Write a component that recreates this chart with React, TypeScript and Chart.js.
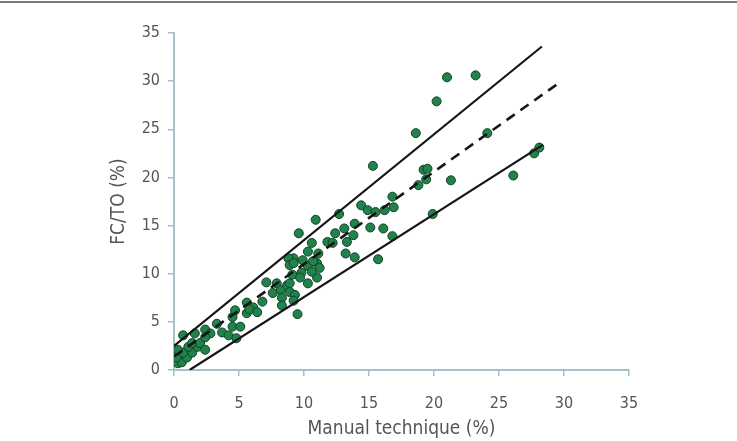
import React, { useEffect, useRef } from "react";
import { Chart, registerables } from "chart.js";

Chart.register(...registerables);

// Manual technique (%) vs FC/TO (%)
const manualX = [
  0.3, 0.6, 0.2, 1.0, 0.7, 1.4, 0.3, 1.1, 1.8, 1.4, 2.0, 0.7, 1.6, 2.4, 2.8, 2.4, 2.4, 3.3, 3.7, 4.2,
  4.5, 5.1, 4.8, 4.5, 4.7, 5.6, 6.1, 5.6, 5.8, 6.4, 6.8, 7.1, 7.6, 7.9, 8.2, 8.3, 8.3, 8.7, 8.9, 8.9,
  9.3, 9.2, 9.5, 9.1, 9.2, 8.8, 8.9, 9.2, 9.8, 9.7, 10.3, 11.0, 10.3, 11.0, 10.6, 11.2, 9.9, 10.7, 10.3, 11.1,
  9.6, 10.6, 10.9, 12.7, 11.8, 12.2, 12.4, 13.1, 13.9, 13.8, 13.3, 13.2, 13.9, 14.4, 14.9, 15.5, 16.2, 15.1, 16.1, 16.8,
  15.7, 15.3, 16.8, 16.9, 18.8, 19.4, 19.2, 19.5, 19.9, 18.6, 20.2, 21.0, 23.2, 24.1, 21.3, 26.1, 27.7, 28.1,
];
const fctoY = [
  0.7, 0.8, 1.3, 1.3, 1.8, 1.8, 2.1, 2.4, 2.4, 2.8, 2.8, 3.6, 3.8, 4.2, 3.8, 3.4, 2.1, 4.8, 3.9, 3.6,
  4.5, 4.5, 3.3, 5.5, 6.2, 7.0, 6.5, 5.9, 6.3, 6.0, 7.1, 9.1, 8.0, 9.0, 8.3, 7.5, 6.7, 8.8, 9.0, 8.1,
  7.8, 7.2, 5.8, 9.9, 11.6, 11.6, 10.9, 11.1, 10.1, 9.6, 9.0, 9.6, 10.8, 11.1, 10.2, 10.6, 11.4, 11.3, 12.3, 12.1,
  14.2, 13.2, 15.6, 16.2, 13.3, 13.2, 14.2, 14.7, 15.2, 14.0, 13.3, 12.1, 11.7, 17.1, 16.6, 16.4, 16.6, 14.8, 14.7, 13.9,
  11.5, 21.2, 18.0, 16.9, 19.2, 19.8, 20.8, 20.9, 16.2, 24.6, 27.9, 30.4, 30.6, 24.6, 19.7, 20.2, 22.5, 23.1,
];

// Reference lines (endpoints)
const upperX = [0, 28.3];
const upperY = [2.5, 33.6];
const identityX = [0, 29.7];
const identityY = [1.4, 29.9];
const lowerX = [1.2, 28.4];
const lowerY = [0, 23.4];

const tickValues = [0, 5, 10, 15, 20, 25, 30, 35];

const pts = (xs: number[], ys: number[]) => xs.map((x, i) => ({ x, y: ys[i] }));

const AXIS = "#a3c1c7";
const TEXT = "#555555";
const FONT = "'Liberation Sans Narrow', 'DejaVu Sans Condensed', 'Roboto', sans-serif";

export default function App() {
  const ref = useRef<HTMLCanvasElement | null>(null);

  useEffect(() => {
    if (!ref.current) return;
    const axis = (title: string, isX: boolean) => ({
      type: "linear" as const,
      min: 0,
      max: 35,
      afterBuildTicks: (s: any) => {
        s.ticks = tickValues.map((v) => ({ value: v }));
      },
      afterFit: (s: any) => {
        if (isX) s.height = 71;
        else s.width = 70;
      },
      grid: {
        display: true,
        drawOnChartArea: false,
        drawTicks: true,
        tickLength: 6,
        color: AXIS,
        lineWidth: 1.5,
      },
      border: { display: true, color: AXIS, width: 2 },
      ticks: {
        color: TEXT,
        font: { family: FONT, size: 16 },
        padding: isX ? 18 : 8,
      },
      title: {
        display: true,
        text: title,
        color: TEXT,
        font: { family: FONT, size: 19 },
        padding: { top: 4, bottom: 1 },
      },
    });

    const chart = new Chart(ref.current, {
      type: "scatter",
      data: {
        datasets: [
          {
            label: "upper",
            data: pts(upperX, upperY),
            showLine: true,
            borderColor: "#151515",
            borderWidth: 2.2,
            pointRadius: 0,
            order: 0,
          },
          {
            label: "identity",
            data: pts(identityX, identityY),
            showLine: true,
            borderColor: "#151515",
            borderWidth: 2.6,
            borderDash: [10, 7],
            pointRadius: 0,
            order: 0,
          },
          {
            label: "lower",
            data: pts(lowerX, lowerY),
            showLine: true,
            borderColor: "#151515",
            borderWidth: 2.2,
            pointRadius: 0,
            order: 0,
          },
          {
            label: "patients",
            data: pts(manualX, fctoY),
            backgroundColor: "#21824a",
            borderColor: "#10412a",
            borderWidth: 1,
            pointRadius: 4.5,
            order: 1,
          },
        ],
      },
      options: {
        responsive: false,
        animation: false,
        devicePixelRatio: 1,
        layout: { padding: { left: 104, right: 108, top: 33, bottom: 0 } },
        plugins: { legend: { display: false }, tooltip: { enabled: false } },
        scales: {
          x: axis("Manual technique (%)", true),
          y: axis("FC/TO (%)", false),
        },
      },
    });
    return () => chart.destroy();
  }, []);

  return (
    <div style={{ position: "absolute", left: 0, top: 0, width: 737, height: 441, background: "#fff" }}>
      <div style={{ position: "absolute", left: 0, top: 1, width: 737, height: 2, background: "#7b7b7b" }} />
      <canvas ref={ref} width={737} height={441} style={{ display: "block" }} />
    </div>
  );
}
